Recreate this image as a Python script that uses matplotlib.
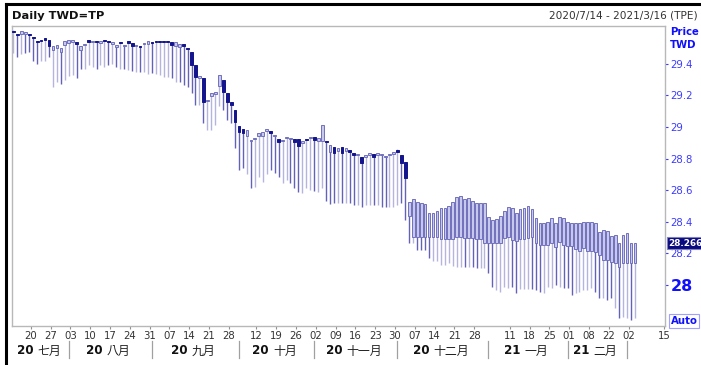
import numpy as np
import pandas as pd
import matplotlib
matplotlib.use("Agg")
import matplotlib.pyplot as plt
from matplotlib.lines import Line2D
from matplotlib.offsetbox import TextArea, HPacker, AnnotationBbox
from matplotlib.transforms import blended_transform_factory

plt.rcParams['font.family'] = ['DejaVu Sans', 'Noto Sans CJK TC']

# Taiwan market closures in the window
holidays = ["2020-10-01", "2020-10-02", "2020-10-09", "2021-01-01", "2021-02-10",
            "2021-02-11", "2021-02-12", "2021-02-15", "2021-02-16", "2021-03-01"]

opens = [
    29.61, 29.59, 29.59, 29.59, 29.59, 29.565, 29.545, 29.55, 29.56, 29.55,
    29.49, 29.50, 29.475, 29.52, 29.53, 29.54, 29.54, 29.49, 29.52, 29.55,
    29.54, 29.545, 29.53, 29.55, 29.545, 29.525, 29.505, 29.54, 29.51, 29.545,
    29.53, 29.51, 29.51, 29.525, 29.525, 29.54, 29.545, 29.545, 29.545, 29.545,
    29.54, 29.51, 29.505, 29.525, 29.50, 29.475, 29.39, 29.31, 29.31, 29.165,
    29.195, 29.21, 29.26, 29.30, 29.215, 29.16, 29.11, 29.005, 28.99, 28.945,
    28.91, 28.925, 28.945, 28.945, 28.975, 28.975, 28.945, 28.925, 28.91, 28.93,
    28.925, 28.925, 28.925, 28.90, 28.925, 28.93, 28.935, 28.91, 28.91, 28.907,
    28.84, 28.875, 28.85, 28.875, 28.85, 28.855, 28.835, 28.82, 28.81, 28.81,
    28.825, 28.83, 28.825, 28.825, 28.81, 28.82, 28.83, 28.848, 28.82, 28.78,
    28.44, 28.305, 28.305, 28.305, 28.305, 28.305, 28.305, 28.305, 28.29, 28.29,
    28.29, 28.29, 28.305, 28.305, 28.30, 28.30, 28.30, 28.29, 28.29, 28.265,
    28.265, 28.265, 28.265, 28.265, 28.30, 28.305, 28.285, 28.28, 28.29, 28.29,
    28.30, 28.305, 28.265, 28.255, 28.255, 28.255, 28.265, 28.24, 28.27, 28.255,
    28.245, 28.245, 28.23, 28.215, 28.235, 28.215, 28.215, 28.21, 28.19, 28.16,
    28.16, 28.145, 28.14, 28.115, 28.14, 28.14, 28.14, 28.14,
]
highs = [
    29.615, 29.59, 29.61, 29.60, 29.59, 29.565, 29.545, 29.55, 29.56, 29.55,
    29.51, 29.52, 29.50, 29.545, 29.55, 29.55, 29.54, 29.51, 29.525, 29.55,
    29.545, 29.545, 29.545, 29.55, 29.545, 29.54, 29.52, 29.54, 29.52, 29.545,
    29.53, 29.52, 29.51, 29.53, 29.545, 29.54, 29.545, 29.545, 29.545, 29.545,
    29.54, 29.54, 29.525, 29.525, 29.50, 29.475, 29.39, 29.325, 29.31, 29.17,
    29.215, 29.22, 29.33, 29.30, 29.215, 29.16, 29.11, 29.005, 28.99, 28.98,
    28.92, 28.93, 28.96, 28.97, 28.99, 28.975, 28.95, 28.925, 28.92, 28.935,
    28.93, 28.925, 28.925, 28.91, 28.925, 28.935, 28.935, 28.93, 29.01, 28.907,
    28.885, 28.875, 28.865, 28.875, 28.865, 28.855, 28.835, 28.825, 28.81, 28.825,
    28.835, 28.83, 28.835, 28.83, 28.815, 28.823, 28.84, 28.858, 28.82, 28.78,
    28.525, 28.545, 28.525, 28.52, 28.51, 28.455, 28.455, 28.47, 28.49, 28.49,
    28.50, 28.525, 28.555, 28.565, 28.545, 28.55, 28.53, 28.52, 28.52, 28.52,
    28.43, 28.41, 28.42, 28.44, 28.47, 28.495, 28.49, 28.455, 28.48, 28.49,
    28.50, 28.48, 28.425, 28.39, 28.39, 28.40, 28.425, 28.39, 28.43, 28.425,
    28.40, 28.39, 28.39, 28.39, 28.40, 28.40, 28.40, 28.39, 28.335, 28.35,
    28.34, 28.31, 28.315, 28.265, 28.315, 28.33, 28.265, 28.266,
]
lows = [
    29.47, 29.44, 29.46, 29.47, 29.475, 29.42, 29.40, 29.42, 29.42, 29.44,
    29.25, 29.285, 29.27, 29.30, 29.32, 29.33, 29.31, 29.37, 29.37, 29.39,
    29.38, 29.37, 29.39, 29.38, 29.39, 29.40, 29.38, 29.37, 29.37, 29.36,
    29.355, 29.35, 29.35, 29.35, 29.335, 29.34, 29.335, 29.33, 29.315, 29.315,
    29.31, 29.285, 29.285, 29.265, 29.25, 29.215, 29.14, 29.14, 29.025, 28.98,
    28.98, 29.01, 29.13, 29.11, 29.045, 29.025, 28.865, 28.73, 28.74, 28.70,
    28.615, 28.62, 28.685, 28.65, 28.70, 28.73, 28.71, 28.685, 28.645, 28.665,
    28.645, 28.615, 28.59, 28.58, 28.615, 28.60, 28.595, 28.59, 28.615, 28.53,
    28.51, 28.52, 28.52, 28.52, 28.52, 28.52, 28.505, 28.505, 28.495, 28.505,
    28.505, 28.505, 28.505, 28.495, 28.495, 28.495, 28.495, 28.505, 28.52, 28.41,
    28.266, 28.266, 28.22, 28.22, 28.22, 28.17, 28.15, 28.15, 28.125, 28.125,
    28.14, 28.12, 28.115, 28.115, 28.115, 28.115, 28.115, 28.11, 28.11, 28.11,
    28.075, 27.99, 27.97, 27.955, 27.99, 27.98, 27.99, 27.95, 27.975, 27.975,
    27.975, 27.975, 27.97, 27.955, 27.95, 27.985, 27.98, 28.00, 27.99, 27.98,
    27.98, 27.94, 27.95, 27.955, 27.97, 27.97, 27.98, 27.955, 27.92, 27.92,
    27.905, 27.92, 27.855, 27.79, 27.80, 27.79, 27.78, 27.79,
]
closes = [
    29.60, 29.58, 29.61, 29.60, 29.58, 29.56, 29.54, 29.545, 29.55, 29.51,
    29.51, 29.52, 29.50, 29.545, 29.55, 29.55, 29.525, 29.51, 29.525, 29.54,
    29.545, 29.54, 29.545, 29.545, 29.54, 29.54, 29.52, 29.53, 29.52, 29.53,
    29.51, 29.52, 29.505, 29.53, 29.545, 29.53, 29.54, 29.54, 29.54, 29.54,
    29.52, 29.54, 29.525, 29.51, 29.495, 29.39, 29.315, 29.325, 29.16, 29.17,
    29.215, 29.22, 29.33, 29.22, 29.16, 29.14, 29.03, 28.97, 28.96, 28.98,
    28.92, 28.93, 28.96, 28.97, 28.99, 28.96, 28.95, 28.905, 28.92, 28.935,
    28.93, 28.905, 28.88, 28.91, 28.92, 28.935, 28.92, 28.93, 29.01, 28.903,
    28.885, 28.835, 28.865, 28.835, 28.865, 28.845, 28.825, 28.825, 28.77, 28.825,
    28.835, 28.81, 28.835, 28.83, 28.815, 28.823, 28.84, 28.845, 28.77, 28.68,
    28.525, 28.545, 28.525, 28.52, 28.51, 28.455, 28.455, 28.47, 28.49, 28.49,
    28.50, 28.525, 28.555, 28.565, 28.545, 28.55, 28.53, 28.52, 28.52, 28.52,
    28.43, 28.41, 28.42, 28.44, 28.47, 28.495, 28.49, 28.455, 28.48, 28.49,
    28.50, 28.48, 28.425, 28.39, 28.39, 28.40, 28.425, 28.39, 28.43, 28.425,
    28.40, 28.39, 28.39, 28.39, 28.40, 28.40, 28.40, 28.39, 28.335, 28.35,
    28.34, 28.31, 28.315, 28.265, 28.315, 28.33, 28.265, 28.266,
]

# weekly tick labels (dates shown under the axis)
tick_dates = ["2020-07-20", "2020-07-27", "2020-08-03", "2020-08-10", "2020-08-17",
              "2020-08-24", "2020-08-31", "2020-09-07", "2020-09-14", "2020-09-21",
              "2020-09-28", "2020-10-12", "2020-10-19", "2020-10-26", "2020-11-02",
              "2020-11-09", "2020-11-16", "2020-11-23", "2020-11-30", "2020-12-07",
              "2020-12-14", "2020-12-21", "2020-12-28", "2021-01-11", "2021-01-18",
              "2021-01-25", "2021-02-01", "2021-02-08", "2021-02-22", "2021-03-02",
              "2021-03-15"]
month_years = ["20", "20", "20", "20", "20", "20", "21", "21"]
month_names = ["七月", "八月", "九月", "十月", "十一月", "十二月", "一月", "二月"]
y_ticks = [28.0, 28.2, 28.4, 28.6, 28.8, 29.0, 29.2, 29.4]
y_tick_labels = ["28", "28.2", "28.4", "28.6", "28.8", "29", "29.2", "29.4"]

# trading calendar
all_days = pd.bdate_range("2020-07-14", "2021-03-16")
all_days = all_days[~all_days.isin(pd.to_datetime(holidays))]
n = len(closes)
days = all_days[:n]
x = np.arange(n)

o = np.array(opens)
h = np.array(highs)
l = np.array(lows)
c = np.array(closes)

W, H = 701, 365
fig = plt.figure(figsize=(W / 100, H / 100), dpi=100)
ax = fig.add_axes([12 / W, 1 - 326 / H, (665 - 12) / W, 300 / H])

up = c >= o
prev = np.r_[c[0], c[:-1]]
wick_col = np.where(c >= prev, "#b4b4de", "#6262ba")
ax.vlines(x, l, h, colors=wick_col, lw=1.0, zorder=2)

bot = np.minimum(o, c)
hgt = np.maximum(np.abs(c - o), 0.007)
ax.bar(x[up], hgt[up], bottom=bot[up], width=0.7, color="#c8c8ea",
       edgecolor="#7070be", lw=0.7, zorder=3)
ax.bar(x[~up], hgt[~up], bottom=bot[~up], width=0.7, color="#14148c",
       edgecolor="#14148c", lw=0.7, zorder=3)

ax.set_xlim(-0.35, 164.6)
ax.set_ylim(27.741, 29.639)

for s in ax.spines.values():
    s.set_color("#b8b8b8")
    s.set_linewidth(1.0)

# right price axis
ax.yaxis.tick_right()
ax.set_yticks(y_ticks)
ax.set_yticklabels(y_tick_labels)
ax.tick_params(axis="y", direction="out", length=2.5, width=0.8, colors="#3a3aff",
               labelsize=7.3, pad=1.5)
for t in ax.get_yticklabels():
    if t.get_text() == "28":
        t.set_fontsize(11.5)
        t.set_fontweight("bold")
        t.set_color("#1010ff")

# bottom date axis
pos = {d: i for i, d in enumerate(all_days)}
tick_idx = [pos[pd.Timestamp(d)] + 0.4 for d in tick_dates]
ax.set_xticks(tick_idx)
ax.set_xticklabels([d[-2:] for d in tick_dates])
ax.tick_params(axis="x", direction="out", length=2, width=0.8, colors="#909090",
               labelsize=7.3, labelcolor="#333333", pad=1.5)

# month groups
tr = blended_transform_factory(ax.transData, fig.transFigure)
month_keys = days.to_period("M")
firsts = [i for i in range(1, n) if month_keys[i] != month_keys[i - 1]]
for i in firsts:
    fig.add_artist(Line2D([i, i], [1 - 358 / H, 1 - 341 / H], transform=tr,
                          color="#a0a0a0", lw=0.9))
groups = [g for g in pd.unique(month_keys)][:len(month_names)]
for g, yy, nm in zip(groups, month_years, month_names):
    idx = x[month_keys == g]
    xc = (idx[0] + idx[-1]) / 2
    box = HPacker(children=[
        TextArea(yy, textprops=dict(fontsize=8.6, fontweight="bold", color="#111111")),
        TextArea(nm, textprops=dict(fontsize=8.6, color="#222222",
                                    family=["Noto Sans CJK TC", "DejaVu Sans"])),
    ], sep=3, pad=0, align="baseline")
    ab = AnnotationBbox(box, (xc, 1 - 351 / H), xycoords=tr, frameon=False,
                        box_alignment=(0.5, 0.5), pad=0)
    fig.add_artist(ab)

# header
fig.text(12 / W, 1 - 16 / H, "Daily TWD=TP", fontsize=8.2, fontweight="bold",
         color="#111111", va="center", ha="left")
fig.text(698 / W, 1 - 16 / H, "2020/7/14 - 2021/3/16 (TPE)", fontsize=7.6,
         color="#333333", va="center", ha="right")
fig.add_artist(Line2D([6 / W, 6 / W], [0, 1 - 4 / H], transform=fig.transFigure,
                      color="black", lw=2.2))
fig.add_artist(Line2D([6 / W, 1], [1 - 4 / H, 1 - 4 / H], transform=fig.transFigure,
                      color="black", lw=2.2))

fig.text(670 / W, 1 - 32 / H, "Price", fontsize=7.3, fontweight="bold",
         color="#1010ff", va="center", ha="left")
fig.text(670 / W, 1 - 45 / H, "TWD", fontsize=7.3, fontweight="bold",
         color="#1010ff", va="center", ha="left")

# last price marker
ax.annotate(f"{closes[-1]:.3f}", xy=(1.0, c[-1]), xycoords=("axes fraction", "data"),
            xytext=(2.2, 0), textcoords="offset points", fontsize=6.4,
            fontweight="bold", color="white", va="center", ha="left",
            bbox=dict(boxstyle="square,pad=0.12", fc="#0a0a80", ec="#8080c0", lw=0.8))

fig.text(671 / W, 1 - 321 / H, "Auto", fontsize=7.3, fontweight="bold",
         color="#1010ff", va="center", ha="left",
         bbox=dict(boxstyle="square,pad=0.15", fc="white", ec="#a0a0ff", lw=0.8))

fig.savefig("out.png", dpi=100)
